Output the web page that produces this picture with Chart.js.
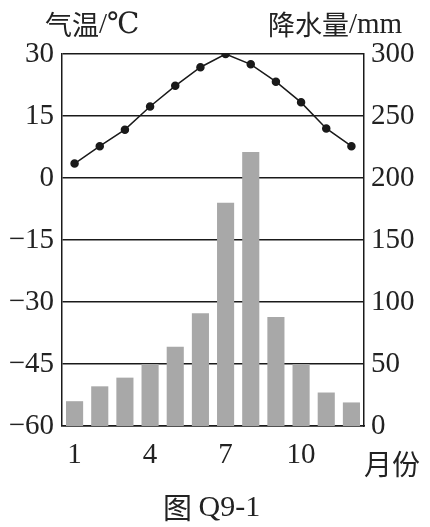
<!DOCTYPE html>
<html>
<head>
<meta charset="utf-8">
<script src="https://cdn.jsdelivr.net/npm/chart.js@4"></script>
<style>
  html, body { margin: 0; padding: 0; background: #fff; }
  #wrap { width: 430px; height: 527px; }
</style>
</head>
<body>
<div id="wrap"><canvas id="climaChart" width="430" height="527"></canvas></div>
<script>
// datos
const meses = ['1', '2', '3', '4', '5', '6', '7', '8', '9', '10', '11', '12'];
const temperatura = [3.5, 7.7, 11.7, 17.3, 22.3, 26.8, 30, 27.5, 23.3, 18.3, 12, 7.7];
const precipitacion = [20, 32, 39, 50, 64, 91, 180, 221, 88, 50, 27, 19];
const ticksTemp = [30, 15, 0, -15, -30, -45, -60];
const ticksLluvia = [300, 250, 200, 150, 100, 50, 0];
const mesesVisibles = ['1', '4', '7', '10'];

const fuenteNum = '"Liberation Serif", "DejaVu Serif", serif';
const fuenteCJK = '"Noto Sans CJK SC", sans-serif';

// escribe trozos de texto con fuentes distintas, uno detras de otro
function textoMixto(ctx, trozos, x, y) {
    let posX = x;
    for (const t of trozos) {
        ctx.font = t.font;
        ctx.fillText(t.txt, posX, y);
        posX += ctx.measureText(t.txt).width;
    }
}

// textos fuera del area de dibujo
const textosExtra = {
    id: 'textosExtra',
    afterDraw(chart) {
        const ctx = chart.ctx;
        ctx.save();
        ctx.fillStyle = '#222';
        ctx.textBaseline = 'middle';
        ctx.textAlign = 'left';
        const cjk = '400 27px ' + fuenteCJK;
        const num = '400 29px ' + fuenteNum;
        textoMixto(ctx, [{ txt: '气温', font: cjk }, { txt: '/℃', font: num }], 45, 25);
        textoMixto(ctx, [{ txt: '降水量', font: cjk }, { txt: '/mm', font: num }], 268, 25);
        textoMixto(ctx, [{ txt: '月份', font: '400 28px ' + fuenteCJK }], 364, 464);
        textoMixto(ctx, [{ txt: '图 ', font: '400 29px ' + fuenteCJK }, { txt: 'Q9-1', font: '400 30px ' + fuenteNum }], 163, 508);
        ctx.restore();
    }
};

function signo(v) {
    return v < 0 ? '−' + Math.abs(v) : String(v);
}

const ctx = document.getElementById('climaChart').getContext('2d');
const chart = new Chart(ctx, {
    data: {
        labels: meses,
        datasets: [{
            type: 'line',
            label: '气温',
            data: temperatura,
            yAxisID: 'y',
            borderColor: '#1a1a1a',
            borderWidth: 1.5,
            pointBackgroundColor: '#1a1a1a',
            pointBorderColor: '#1a1a1a',
            pointRadius: 3.5,
            tension: 0,
            order: 0
        }, {
            type: 'bar',
            label: '降水量',
            data: precipitacion,
            yAxisID: 'y2',
            backgroundColor: '#a8a8a8',
            categoryPercentage: 1,
            barPercentage: 0.68,
            order: 1
        }]
    },
    options: {
        responsive: false,
        animation: false,
        layout: { padding: { top: 54, right: 0, left: 0, bottom: 0 } },
        plugins: {
            legend: { display: false },
            tooltip: { enabled: false }
        },
        scales: {
            x: {
                type: 'category',
                grid: { display: false },
                border: { display: true, color: '#1a1a1a', width: 1.5 },
                ticks: {
                    autoSkip: false,
                    maxRotation: 0,
                    padding: 4,
                    color: '#222',
                    font: { family: fuenteNum, size: 29 },
                    callback: function (valor, i) {
                        const m = meses[i];
                        return mesesVisibles.includes(m) ? m : '';
                    }
                },
                afterFit(scale) { scale.height = 101; }
            },
            y: {
                position: 'left',
                min: -60,
                max: 30,
                z: 1,
                afterBuildTicks(scale) { scale.ticks = ticksTemp.map(v => ({ value: v })); },
                grid: { color: '#1a1a1a', lineWidth: 1.5, drawTicks: false },
                border: { display: true, color: '#1a1a1a', width: 1.5 },
                ticks: {
                    padding: 8,
                    color: '#222',
                    font: { family: fuenteNum, size: 29 },
                    callback: v => signo(v)
                },
                afterFit(scale) { scale.width = 62; }
            },
            y2: {
                position: 'right',
                min: 0,
                max: 300,
                afterBuildTicks(scale) { scale.ticks = ticksLluvia.map(v => ({ value: v })); },
                grid: { display: false, drawTicks: false },
                border: { display: true, color: '#1a1a1a', width: 1.5 },
                ticks: {
                    padding: 7,
                    color: '#222',
                    font: { family: fuenteNum, size: 29 }
                },
                afterFit(scale) { scale.width = 66; }
            }
        }
    },
    plugins: [textosExtra]
});
</script>
</body>
</html>
